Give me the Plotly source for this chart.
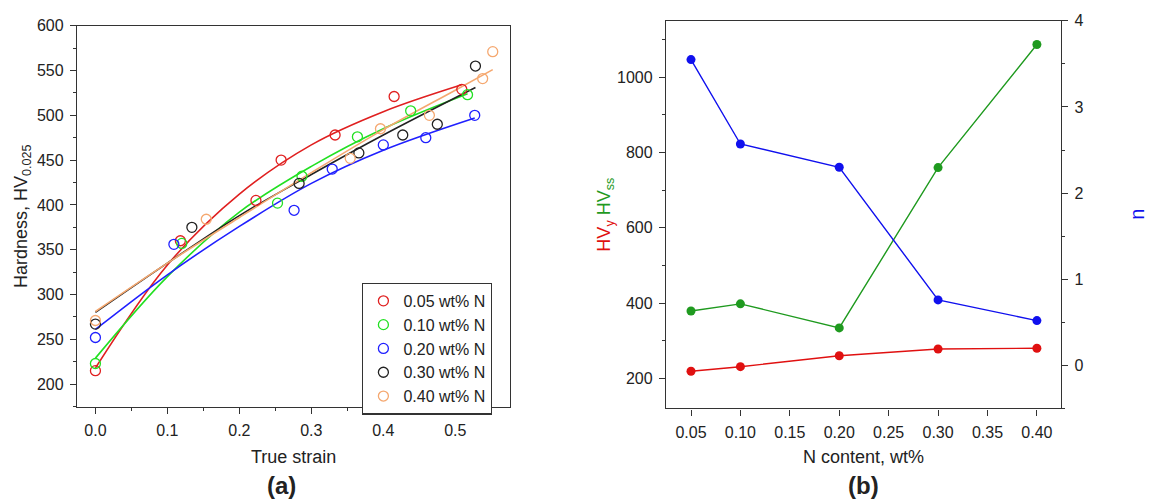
import plotly.graph_objects as go

W, H = 1149, 499

# ---------------- Panel (a) data ----------------
series_names = ["0.05 wt% N", "0.10 wt% N", "0.20 wt% N", "0.30 wt% N", "0.40 wt% N"]

strain_005 = [0.0, 0.118, 0.223, 0.258, 0.333, 0.415, 0.509]
hv_005 = [215, 360, 405, 450, 478, 521, 529]
strain_010 = [0.0, 0.120, 0.253, 0.287, 0.364, 0.438, 0.517]
hv_010 = [223, 357, 402, 432, 476, 505, 523]
strain_020 = [0.0, 0.109, 0.276, 0.329, 0.400, 0.459, 0.527]
hv_020 = [252, 356, 394, 440, 467, 475, 500]
strain_030 = [0.0, 0.134, 0.283, 0.366, 0.427, 0.475, 0.528]
hv_030 = [267, 375, 424, 458, 478, 490, 555]
strain_040 = [0.0, 0.154, 0.354, 0.396, 0.464, 0.538, 0.552]
hv_040 = [271, 384, 452, 485, 500, 541, 571]

# fitted curves
fit_x_005 = [0.0, 0.1, 0.2, 0.3, 0.4, 0.509]
fit_y_005 = [218, 333, 412, 467, 504, 534]
fit_x_010 = [0.0, 0.1, 0.2, 0.3, 0.4, 0.517]
fit_y_010 = [229, 320, 392, 443, 485, 524]
fit_x_020 = [0.0, 0.1, 0.2, 0.3, 0.4, 0.527]
fit_y_020 = [261, 322, 376, 424, 461, 497]
fit_x_030 = [0.0, 0.1, 0.2, 0.3, 0.4, 0.528]
fit_y_030 = [280, 335, 388, 434, 478, 531]
fit_x_040 = [0.0, 0.1, 0.2, 0.3, 0.4, 0.5, 0.552]
fit_y_040 = [281, 335, 386, 436, 484, 528, 551]

# ---------------- Panel (b) data ----------------
n_content = [0.05, 0.10, 0.20, 0.30, 0.40]
hv_y = [219, 231, 260, 278, 280]
hv_ss = [379, 398, 334, 760, 1087]
n_exp = [3.55, 2.57, 2.30, 0.76, 0.52]

colors_a = ["#e02020", "#22e022", "#2020ff", "#222222", "#f5a870"]
col_red, col_green, col_blue = "#e01010", "#1f9a1f", "#1010ee"

FONT = "Liberation Sans, Arial, sans-serif"
AX = "#333333"

pts = [(strain_005, hv_005), (strain_010, hv_010), (strain_020, hv_020),
       (strain_030, hv_030), (strain_040, hv_040)]
fits = [(fit_x_005, fit_y_005), (fit_x_010, fit_y_010), (fit_x_020, fit_y_020),
        (fit_x_030, fit_y_030), (fit_x_040, fit_y_040)]

fig = go.Figure()
for (fx, fy), c in zip(fits, colors_a):
    fig.add_trace(go.Scatter(x=fx, y=fy, mode="lines", line=dict(color=c, width=1.6, shape="spline"),
                             showlegend=False, hoverinfo="skip", xaxis="x", yaxis="y"))
for (px, py), c, nm in zip(pts, colors_a, series_names):
    fig.add_trace(go.Scatter(x=px, y=py, mode="markers", name=nm,
                             marker=dict(symbol="circle-open", size=10, color=c, line=dict(width=1.3, color=c)),
                             xaxis="x", yaxis="y"))

fig.add_trace(go.Scatter(x=n_content, y=hv_y, mode="lines+markers", line=dict(color=col_red, width=1.4),
                         marker=dict(size=9, color=col_red), showlegend=False, xaxis="x2", yaxis="y2"))
fig.add_trace(go.Scatter(x=n_content, y=hv_ss, mode="lines+markers", line=dict(color=col_green, width=1.4),
                         marker=dict(size=9, color=col_green), showlegend=False, xaxis="x2", yaxis="y2"))
fig.add_trace(go.Scatter(x=n_content, y=n_exp, mode="lines+markers", line=dict(color=col_blue, width=1.4),
                         marker=dict(size=9, color=col_blue), showlegend=False, xaxis="x2", yaxis="y3"))

def px2x(p):
    return p / W

def px2y(p):
    return (H - p) / H

common = dict(showgrid=False, zeroline=False, showline=True, linecolor=AX, linewidth=1.4,
              ticks="outside", ticklen=6, tickwidth=1.3, tickcolor=AX,
              tickfont=dict(family=FONT, size=16, color="#222"), ticklabelstandoff=3)

L0, L1, T0, B0 = 77, 510, 18, 405
R0, R1, T1, B1 = 666, 1061, 13, 407

fig.update_layout(
    width=W, height=H, margin=dict(l=0, r=0, t=0, b=0),
    paper_bgcolor="white", plot_bgcolor="white",
    font=dict(family=FONT, color="#222"),
    xaxis=dict(domain=[px2x(L0), px2x(L1)], range=[-0.0256, 0.576], anchor="y",
               tick0=0, dtick=0.1, tickformat=".1f", mirror=True,
               minor=dict(dtick=0.05, ticklen=3, ticks="outside", tickcolor=AX), **common),
    yaxis=dict(domain=[px2y(B0), px2y(T0)], range=[175, 600], anchor="x",
               tick0=0, dtick=50, mirror=True,
               minor=dict(dtick=25, ticklen=3, ticks="outside", tickcolor=AX), **common),
    xaxis2=dict(domain=[px2x(R0), px2x(R1)], range=[0.0247, 0.4244], anchor="y2",
                tick0=0.05, dtick=0.05, tickformat=".2f", mirror=True, **common),
    yaxis2=dict(domain=[px2y(B1), px2y(T1)], range=[120, 1150], anchor="x2", side="left",
                tick0=0, dtick=200,
                minor=dict(dtick=100, ticklen=3, ticks="outside", tickcolor=AX), **common),
    yaxis3=dict(range=[-0.5, 4], anchor="x2", overlaying="y2", side="right",
                tick0=0, dtick=1,
                minor=dict(dtick=0.5, ticklen=3, ticks="outside", tickcolor=AX), **common),
    legend=dict(x=px2x(362), y=px2y(279), xanchor="left", yanchor="top",
                bgcolor="white", bordercolor=AX, borderwidth=1.4,
                font=dict(family=FONT, size=16, color="#222"),
                tracegroupgap=0, itemwidth=30),
    showlegend=True,
)

ann_font = dict(family=FONT, size=18, color="#222")

def ann(x, y, text, font, angle=0):
    fig.add_annotation(x=px2x(x), y=px2y(y), xref="paper", yref="paper", xanchor="center",
                       yanchor="middle", text=text, textangle=angle, showarrow=False, font=font)

ann(22, (T0 + B0) / 2, "Hardness, HV<sub>0.025</sub>", ann_font, -90)
ann((L0 + L1) / 2, 456, "True strain", ann_font)
ann((L0 + L1) / 2 - 12, 485, "<b>(a)</b>", dict(family=FONT, size=24, color="#222"))
ann(606, (T1 + B1) / 2,
    '<span style="color:#e01010">HV<sub>y</sub></span> <span style="color:#1f9a1f">HV<sub>ss</sub></span>',
    ann_font, -90)
ann(1137, (T1 + B1) / 2, "n", dict(family=FONT, size=20, color=col_blue), -90)
ann((R0 + R1) / 2, 456, "N content, wt%", ann_font)
ann((R0 + R1) / 2, 485, "<b>(b)</b>", dict(family=FONT, size=24, color="#222"))

fig.write_html("out.html")
